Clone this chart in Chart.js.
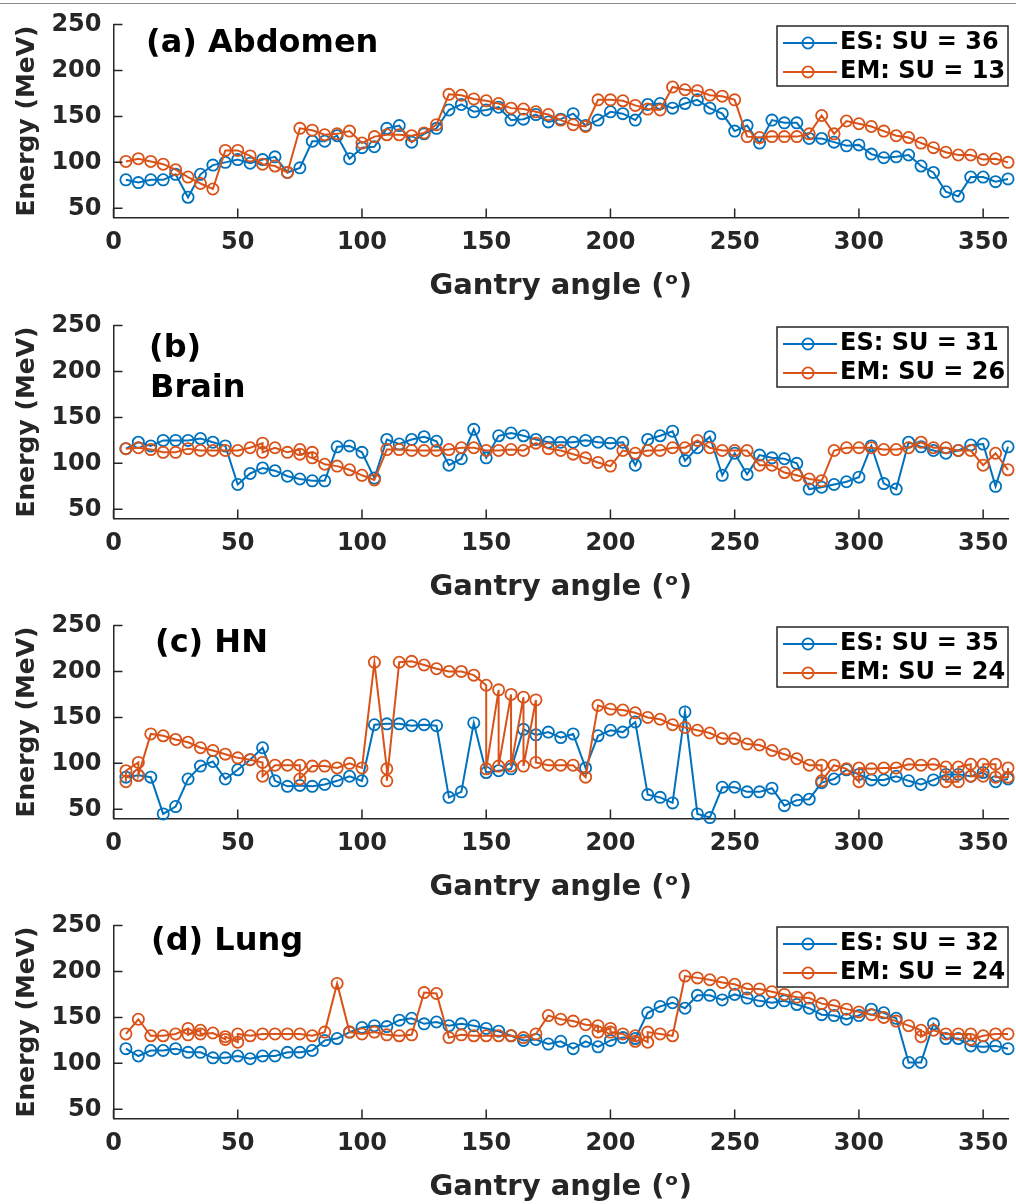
<!DOCTYPE html>
<html>
<head>
<meta charset="utf-8">
<script src="https://cdn.jsdelivr.net/npm/chart.js@4.4.1/dist/chart.umd.min.js"></script>
<style>
html, body { margin: 0; padding: 0; background: #fff; }
#wrap { position: relative; width: 1016px; height: 1204px; overflow: hidden; background: #fff; }
#topline { position: absolute; left: 0; top: 3px; width: 1016px; height: 1px; background: #8a8a8a; z-index: 5; }
.panel { position: absolute; left: 0; width: 1016px; height: 301px; }
canvas { display: block; }
</style>
</head>
<body>
<div id="wrap">
  <div id="topline"></div>
  <div class="panel" style="top:0px"><canvas id="cA" width="1016" height="301"></canvas></div>
  <div class="panel" style="top:301px"><canvas id="cB" width="1016" height="301"></canvas></div>
  <div class="panel" style="top:601px"><canvas id="cC" width="1016" height="301"></canvas></div>
  <div class="panel" style="top:901px"><canvas id="cD" width="1016" height="301"></canvas></div>
</div>
<script>
// ---------------- data ----------------
const xTicks = [0, 50, 100, 150, 200, 250, 300, 350];
const yTicks = [50, 100, 150, 200, 250];

const angles = [5,10,15,20,25,30,35,40,45,50,55,60,65,70,75,80,85,90,95,100,
  105,110,115,120,125,130,135,140,145,150,155,160,165,170,175,180,185,190,195,200,
  205,210,215,220,225,230,235,240,245,250,255,260,265,270,275,280,285,290,295,300,
  305,310,315,320,325,330,335,340,345,350,355,360];

// (a) Abdomen
const esAbdomen = [81,78,81,81,87,62,87,97,100,103,
  99,103,106,89,94,123,123,129,104,116,
  117,137,140,122,131,137,157,163,155,157,
  160,146,147,152,144,147,153,140,146,155,
  153,146,163,164,159,164,168,159,153,134,
  140,121,146,143,143,126,126,122,118,119,
  109,105,106,108,96,89,68,63,84,84,
  79,82];
const emAbdomen = [101,104,101,98,92,84,77,71,113,113,
  107,98,96,89,137,135,130,131,134,121,
  128,130,130,129,132,141,174,173,169,167,
  164,159,158,155,152,146,141,139,168,168,
  167,162,158,157,182,179,178,173,172,168,
  128,127,128,128,128,131,151,131,145,142,
  139,134,129,127,121,116,111,108,108,103,
  104,100];

// (b) Brain
const esBrain = [116,123,119,125,125,125,127,123,119,77,
  89,95,92,86,83,81,81,118,119,112,
  84,126,121,126,129,124,98,105,137,106,
  130,133,130,126,123,123,123,125,123,122,
  123,98,126,130,135,103,117,129,87,111,
  88,109,106,105,100,72,74,77,80,85,
  119,78,72,123,118,114,111,114,120,121,
  75,118];
const emBrainAngles = [5,10,15,20,25,30,35,40,45,50,55,60,60,65,70,75,75,80,80,
  85,90,95,100,105,110,115,120,125,130,135,140,145,150,155,160,165,170,175,180,
  185,190,195,200,205,210,215,220,225,230,235,240,245,250,255,260,265,270,275,280,
  285,290,295,300,305,310,315,320,325,330,335,340,345,350,355,360];
const emBrain = [116,117,115,112,112,116,114,114,114,114,117,122,112,117,112,115,110,112,106,
  99,97,93,87,82,115,115,114,114,114,115,117,117,114,114,115,114,122,116,114,
  110,106,101,97,114,111,114,114,117,117,125,117,114,114,114,98,98,90,87,83,
  81,114,117,117,117,115,115,117,123,117,117,114,114,98,111,93];

// (c) HN
const esHN = [85,87,85,45,53,83,97,102,83,93,
  104,117,81,75,76,75,77,81,86,81,
  142,143,143,141,142,141,63,69,144,90,
  92,94,137,131,134,128,132,95,130,136,
  134,145,66,63,57,156,45,41,74,74,
  69,69,73,54,60,61,79,83,93,88,
  82,82,86,81,77,82,88,88,86,90,
  80,83];
const emHNAngles = [5,5,10,10,15,20,25,30,35,40,45,50,55,60,60,65,70,75,75,80,
  85,90,95,100,105,110,110,115,120,125,130,135,140,145,150,150,155,155,160,160,
  165,165,170,170,175,180,185,190,195,200,205,210,215,220,225,230,235,240,245,250,
  255,260,265,270,275,280,285,285,290,295,300,300,305,310,315,320,325,330,335,335,
  340,340,345,345,350,350,355,355,360,360];
const emHN = [80,92,101,87,132,130,126,123,117,114,110,106,104,101,86,98,98,98,83,97,
  97,95,100,95,210,94,81,210,211,207,203,200,200,196,185,94,180,97,175,97,
  172,97,169,101,98,98,98,85,163,159,158,155,150,148,142,139,136,133,127,127,
  121,120,114,110,105,98,98,81,98,94,80,95,94,95,95,99,98,99,96,80,
  80,96,99,86,86,99,99,85,85,95];

// (d) Lung
const esLung = [116,108,114,114,116,112,112,106,106,108,
  105,108,108,112,112,114,125,127,134,139,
  141,140,147,149,143,145,141,143,141,138,
  135,130,125,126,121,124,116,124,118,125,
  128,127,155,162,166,160,174,174,169,175,
  171,168,166,168,164,160,153,152,148,152,
  159,155,149,101,101,143,127,127,119,118,
  119,116];
const emLungAngles = [5,10,15,20,25,30,30,35,35,40,45,45,50,50,
  55,60,65,70,75,80,85,90,95,100,105,110,115,120,125,130,135,140,145,150,155,160,165,170,175,
  180,185,190,195,195,200,200,205,210,210,215,215,
  220,225,230,235,240,245,250,255,260,265,270,275,280,285,290,295,300,305,310,315,320,
  325,325,330,335,340,345,345,350,355,360];
const emLung = [132,148,130,130,132,138,131,136,132,133,126,129,123,132,
  130,132,132,132,132,130,134,187,134,132,134,131,130,131,177,176,128,131,130,130,130,130,128,132,152,
  148,146,142,141,134,138,134,132,124,130,123,134,
  132,130,195,193,191,188,186,181,181,178,175,172,171,165,163,159,156,153,150,146,141,
  136,129,136,132,132,132,126,130,132,132];

const suES = [36, 31, 35, 32];
const suEM = [13, 26, 24, 24];

// ---------------- styling ----------------
const BLUE = '#0072BD', ORANGE = '#D95319', AXIS = '#262626';
Chart.defaults.font.family = "'DejaVu Sans', sans-serif";
Chart.defaults.font.weight = 'bold';
Chart.defaults.color = AXIS;

function pts(xs, ys) { return xs.map((x, i) => ({ x: x, y: ys[i] })); }

function legendIcon(color) {
  const c = document.createElement('canvas');
  c.width = 58; c.height = 16;
  const g = c.getContext('2d');
  g.strokeStyle = color;
  g.lineWidth = 2;
  g.beginPath(); g.moveTo(0, 8); g.lineTo(58, 8); g.stroke();
  g.lineWidth = 1.8;
  g.beginPath(); g.arc(29, 8, 5.6, 0, Math.PI * 2); g.stroke();
  return c;
}
const icons = [legendIcon(BLUE), legendIcon(ORANGE)];

const LEG = { left: 783, top: 26, boxX: 777, boxY: 26, boxW: 231, boxH: 60 };

const legendPlace = {
  id: 'legendPlace',
  afterLayout(chart) {
    const lg = chart.legend;
    if (!lg) return;
    lg.left = LEG.left; lg.top = LEG.top;
    lg.width = 1010 - LEG.left; lg.height = 80;
    lg.right = lg.left + lg.width; lg.bottom = lg.top + lg.height;
  },
  beforeDraw(chart) {
    const ctx = chart.ctx;
    ctx.save();
    ctx.fillStyle = '#fff';
    ctx.fillRect(LEG.boxX, LEG.boxY, LEG.boxW, LEG.boxH);
    ctx.strokeStyle = AXIS; ctx.lineWidth = 1.5;
    ctx.strokeRect(LEG.boxX, LEG.boxY, LEG.boxW, LEG.boxH);
    ctx.restore();
  }
};

const inwardTicks = {
  id: 'inwardTicks',
  afterDraw(chart) {
    const { ctx, chartArea: a, scales } = chart;
    ctx.save();
    ctx.strokeStyle = AXIS; ctx.lineWidth = 1.5;
    ctx.beginPath();
    xTicks.forEach(v => { const px = scales.x.getPixelForValue(v); ctx.moveTo(px, a.bottom); ctx.lineTo(px, a.bottom - 9); });
    yTicks.forEach(v => { const py = scales.y.getPixelForValue(v); ctx.moveTo(a.left, py); ctx.lineTo(a.left + 9, py); });
    ctx.stroke();
    ctx.restore();
  }
};

const panelLabel = {
  id: 'panelLabel',
  afterDraw(chart, args, opts) {
    const ctx = chart.ctx;
    ctx.save();
    ctx.font = "bold 32px 'DejaVu Sans'";
    ctx.fillStyle = '#000';
    ctx.textBaseline = 'alphabetic';
    ctx.textAlign = 'left';
    (opts.lines || []).forEach((l) => ctx.fillText(l.t, l.x, l.y));
    ctx.restore();
  }
};

function makePanel(id, labelLines, esX, esY, emX, emY, k) {
  new Chart(document.getElementById(id), {
    type: 'line',
    data: {
      datasets: [
        { label: 'ES: SU = ' + suES[k], data: pts(esX, esY), borderColor: BLUE, backgroundColor: BLUE,
          borderWidth: 2, pointRadius: 5.6, pointBorderWidth: 1.8, pointBorderColor: BLUE,
          pointBackgroundColor: 'rgba(255,255,255,0)', tension: 0, clip: false, order: 1, fill: false },
        { label: 'EM: SU = ' + suEM[k], data: pts(emX, emY), borderColor: ORANGE, backgroundColor: ORANGE,
          borderWidth: 2, pointRadius: 5.6, pointBorderWidth: 1.8, pointBorderColor: ORANGE,
          pointBackgroundColor: 'rgba(255,255,255,0)', tension: 0, clip: false, order: 0, fill: false }
      ]
    },
    options: {
      responsive: false,
      animation: false,
      events: [],
      layout: { padding: { left: 0, right: 8, top: 24.5, bottom: 0 } },
      scales: {
        x: {
          type: 'linear', min: 0, max: 360,
          afterBuildTicks: s => { s.ticks = xTicks.map(v => ({ value: v })); },
          afterFit: s => { s.height = 83.5; s.paddingLeft = 0; s.paddingRight = 0; },
          grid: { display: true, drawOnChartArea: false, drawTicks: false },
          border: { display: true, color: AXIS, width: 1.5 },
          ticks: { padding: 11, font: { size: 24, weight: 'bold' }, color: AXIS, autoSkip: false, maxRotation: 0 },
          title: { display: true, text: 'Gantry angle (\u1D52)', color: AXIS,
                   font: { size: 29, weight: 'bold', lineHeight: 1 }, padding: { top: 0, bottom: 0 } }
        },
        y: {
          type: 'linear', min: 40, max: 250,
          afterBuildTicks: s => { s.ticks = yTicks.map(v => ({ value: v })); },
          afterFit: s => { s.width = 113.5; s.paddingTop = 0; s.paddingBottom = 0; },
          grid: { display: true, drawOnChartArea: false, drawTicks: false },
          border: { display: true, color: AXIS, width: 1.5 },
          ticks: { padding: 12, font: { size: 24, weight: 'bold' }, color: AXIS },
          title: { display: true, text: 'Energy (MeV)', color: AXIS,
                   font: { size: 25, weight: 'bold', lineHeight: 1.2 }, padding: { top: 12, bottom: 0 } }
        }
      },
      plugins: {
        tooltip: { enabled: false },
        legend: {
          display: true, position: 'chartArea', align: 'start',
          labels: {
            usePointStyle: true, pointStyleWidth: 40, padding: 5, textAlign: 'left', color: '#000',
            font: { size: 24, weight: 'bold' },
            generateLabels(chart) {
              return chart.data.datasets.map((ds, i) => ({
                text: ds.label, pointStyle: icons[i], fillStyle: 'rgba(0,0,0,0)', strokeStyle: ds.borderColor,
                lineWidth: 0, hidden: false, datasetIndex: i, fontColor: '#000', textAlign: 'left'
              }));
            }
          }
        },
        panelLabel: { lines: labelLines }
      }
    },
    plugins: [legendPlace, inwardTicks, panelLabel]
  });
}

makePanel('cA', [{ t: '(a) Abdomen', x: 146, y: 51.7 }], angles, esAbdomen, angles, emAbdomen, 0);
makePanel('cB', [{ t: '(b)', x: 149, y: 55.7 }, { t: 'Brain', x: 150, y: 96.3 }], angles, esBrain, emBrainAngles, emBrain, 1);
makePanel('cC', [{ t: '(c) HN', x: 155, y: 51.3 }], angles, esHN, emHNAngles, emHN, 2);
makePanel('cD', [{ t: '(d) Lung', x: 151, y: 49 }], angles, esLung, emLungAngles, emLung, 3);
</script>
</body>
</html>
